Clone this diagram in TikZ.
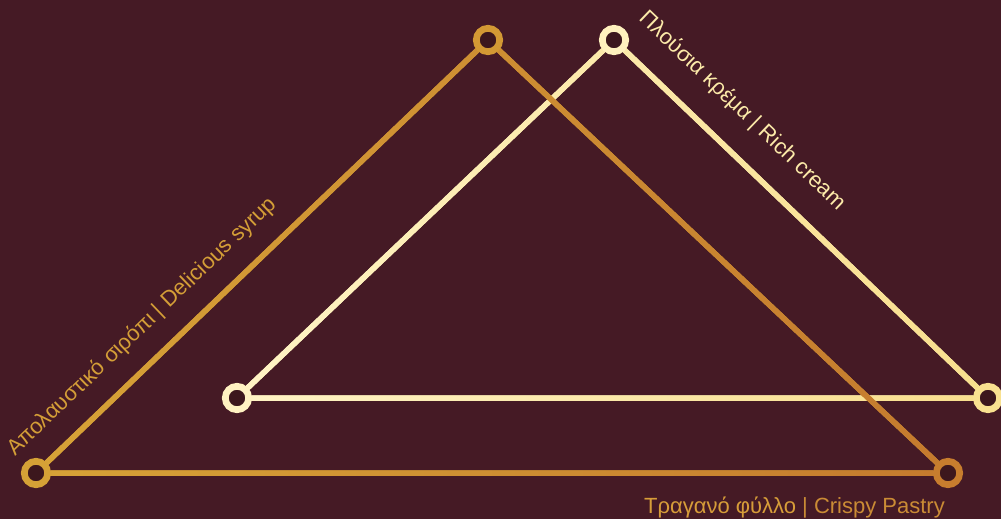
\documentclass[tikz,border=0pt]{standalone}
\usepackage{fontspec}
\setmainfont{Liberation Sans}
\usetikzlibrary{calc}
\definecolor{bgc}{HTML}{451A25}
\definecolor{hole}{HTML}{3C171D}
\definecolor{goldL}{HTML}{D7A337}
\definecolor{goldR}{HTML}{C47A2E}
\definecolor{creamL}{HTML}{FFF4C6}
\definecolor{creamR}{HTML}{F8DE8C}
\definecolor{gA}{HTML}{D5A136}
\definecolor{gB}{HTML}{D39934}
\definecolor{gC}{HTML}{C77D2E}
\definecolor{cD}{HTML}{FFF2C2}
\definecolor{cE}{HTML}{FFF1BE}
\definecolor{cF}{HTML}{F9E190}
\definecolor{txtL}{HTML}{D49E37}
\definecolor{txtR}{HTML}{FCEAA9}
\definecolor{txtBg}{HTML}{D79D39}
\definecolor{txtBe}{HTML}{CA8B35}
\pgfdeclarelayer{bg}
\pgfdeclarelayer{lines}
\pgfsetlayers{bg,lines,main}
\newcommand\edgepoly[2]{($(#1.center)!2.75pt!90:(#2.center)$) -- ($(#2.center)!2.75pt!-90:(#1.center)$) -- ($(#2.center)!2.75pt!90:(#1.center)$) -- ($(#1.center)!2.75pt!-90:(#2.center)$) -- cycle }
\begin{document}
\begin{tikzpicture}[x=1pt,y=-1pt,
  vtx/.style={circle, draw=#1, fill=hole, line width=6.7pt, minimum size=23.4pt, inner sep=0pt},
  edge/.style={line width=5.5pt},
  lbl/.style={font=\fontsize{22}{22}\selectfont, inner sep=0pt}]
\useasboundingbox (0,0) rectangle (1001,519);
\begin{pgfonlayer}{bg}
\fill[bgc] (0,0) rectangle (1001,519);
\end{pgfonlayer}
% vertices
\node[vtx=cD] (D) at (237,398) {};
\node[vtx=cE] (E) at (614,40) {};
\node[vtx=cF] (F) at (988,398) {};
\node[vtx=gA] (A) at (36,473) {};
\node[vtx=gB] (B) at (488,40) {};
\node[vtx=gC] (C) at (948,473) {};
% edges
\begin{pgfonlayer}{lines}
\draw[edge, cE] (D) -- (E) -- (F) -- (D);
\begin{scope}
\clip \edgepoly{D}{E} \edgepoly{E}{F} \edgepoly{F}{D};
\shade[left color=creamL, right color=creamR] (227,30) rectangle (1001,408);
\end{scope}
\draw[edge, gB] (A) -- (B) -- (C) -- (A);
\begin{scope}
\clip \edgepoly{A}{B} \edgepoly{B}{C} \edgepoly{C}{A};
\shade[left color=goldL, right color=goldR] (26,30) rectangle (958,483);
\end{scope}
\end{pgfonlayer}
% labels
\node[lbl, text=txtL, rotate=43.8] (tl) at (142,327) {Απολαυστικό σιρόπι | Delicious syrup};
\node[lbl, text=txtR, rotate=-43.75] (tr) at (742,111) {Πλούσια κρέμα | Rich cream};
\node[lbl, anchor=base] (tb) at (794.5,513) {\textcolor{txtBg}{Τραγανό φύλλο} \textcolor{txtBe}{| Crispy Pastry}};
\end{tikzpicture}
\end{document}
